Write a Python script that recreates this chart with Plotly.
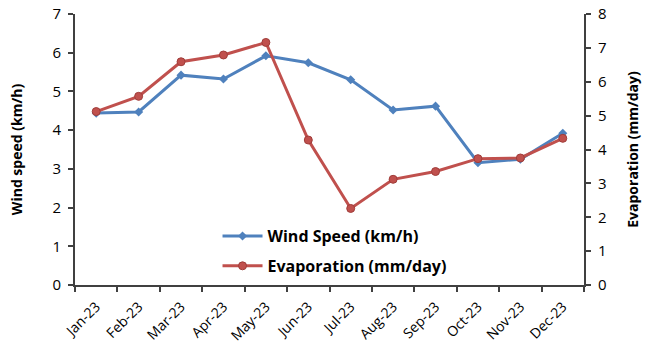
import plotly.graph_objects as go

months = ["Jan-23", "Feb-23", "Mar-23", "Apr-23", "May-23", "Jun-23",
          "Jul-23", "Aug-23", "Sep-23", "Oct-23", "Nov-23", "Dec-23"]
wind_speed = [4.44, 4.47, 5.42, 5.32, 5.92, 5.74, 5.30, 4.52, 4.62, 3.16, 3.25, 3.92]
evaporation = [5.12, 5.57, 6.59, 6.79, 7.16, 4.28, 2.26, 3.12, 3.35, 3.73, 3.75, 4.33]

blue = "#4F81BD"
red = "#C0504D"
axis_col = "#404040"
font_fam = "Open Sans"

fig = go.Figure()
fig.add_trace(go.Scatter(
    x=months, y=wind_speed, name="Wind Speed (km/h)", mode="lines+markers",
    line=dict(color=blue, width=3),
    marker=dict(symbol="diamond", size=7, color=blue),
    legendgroup="a", yaxis="y"))
fig.add_trace(go.Scatter(
    x=months, y=evaporation, name="Evaporation (mm/day)", mode="lines+markers",
    line=dict(color=red, width=3),
    marker=dict(symbol="circle", size=8, color=red, line=dict(color="#A03D3A", width=1)),
    legendgroup="b", yaxis="y2"))

fig.update_layout(
    width=648, height=344,
    margin=dict(l=75, r=64, t=14, b=59),
    paper_bgcolor="white", plot_bgcolor="white",
    font=dict(family=font_fam, size=14, color="#111111"),
    showlegend=True,
    legend=dict(x=0.28, y=0.125, xanchor="left", yanchor="middle",
                bgcolor="rgba(0,0,0,0)", traceorder="grouped", tracegroupgap=6,
                font=dict(family=font_fam, size=16, color="black", weight="bold"),
                itemwidth=40),
    xaxis=dict(type="category", range=[-0.5, 11.5], showline=True, linecolor=axis_col,
               linewidth=2, ticks="outside", tickson="boundaries", ticklen=5,
               tickcolor=axis_col, tickwidth=1.5, tickangle=-45, showgrid=False,
               tickfont=dict(size=14, color="black"), zeroline=False, automargin=False,
               ticklabelstandoff=6),
    yaxis=dict(range=[0, 7], dtick=1, showline=True, linecolor=axis_col, linewidth=2,
               ticks="outside", ticklen=5, tickcolor=axis_col, tickwidth=1.5,
               showgrid=False, zeroline=False, tickfont=dict(size=15, color="black"),
               automargin=False, ticklabelstandoff=4,
               title=dict(text="Wind speed (km/h)", standoff=27,
                          font=dict(size=14, weight="bold", color="black"))),
    yaxis2=dict(range=[0, 8], dtick=1, overlaying="y", side="right", showline=True,
                linecolor=axis_col, linewidth=2, ticks="outside", ticklen=5,
                tickcolor=axis_col, tickwidth=1.5, showgrid=False, zeroline=False,
                tickfont=dict(size=15, color="black"), automargin=False,
                ticklabelstandoff=4,
                title=dict(text="Evaporation (mm/day)", standoff=22,
                           font=dict(size=14, weight="bold", color="black"))),
)

fig.write_html("out.html")
